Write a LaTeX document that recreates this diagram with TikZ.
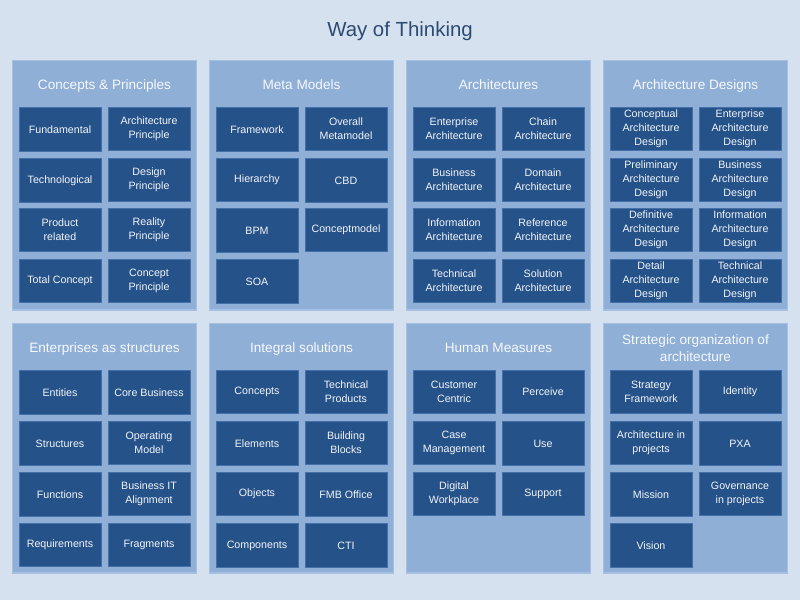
\documentclass[tikz,border=0pt]{standalone}
\usepackage{fontspec}
\setmainfont{Liberation Sans}
\definecolor{fond}{HTML}{D5E1EF}
\definecolor{paneau}{HTML}{8FAFD7}
\definecolor{paneaubord}{HTML}{A6C0E1}
\definecolor{case}{HTML}{26528A}
\definecolor{casebord}{HTML}{4571AA}
\definecolor{titre}{HTML}{2C4B72}
\begin{document}
\begin{tikzpicture}
  [x=0.75pt,y=-0.75pt,
  panel/.style={
    draw=paneaubord,
    fill=paneau,
    rectangle,
    line width=1pt,
    minimum width=138pt,
    minimum height=187pt,
    anchor=north west},
  heading/.style={
    text=white!92!paneau,
    align=center,
    font=\fontsize{10.2pt}{12.8pt}\selectfont},
  concept/.style={
    draw=casebord,
    fill=case,
    rectangle,
    line width=0.6pt,
    minimum width=61.5pt,
    minimum height=32.5pt,
    inner sep=0pt,
    align=center,
    text=white!94!case,
    font=\fontsize{8pt}{10.5pt}\selectfont}]

  \useasboundingbox [fill=fond] (0,0) rectangle (800,600);

  \node [text=titre, font=\fontsize{15.3pt}{18pt}\selectfont] (title) at (400,31) {Way of Thinking};

  % first row of panels
  \node [panel] (principles) at (12,60) {};
  \node [panel] (metamodels) at (209,60) {};
  \node [panel] (architectures) at (406,60) {};
  \node [panel] (designs) at (603,60) {};

  \node [heading, anchor=base] (principlestitle) at (104.5,89) {Concepts \& Principles};
  \node [heading, anchor=base] (metamodelstitle) at (301.5,89) {Meta Models};
  \node [heading, anchor=base] (architecturestitle) at (498.5,89) {Architectures};
  \node [heading, anchor=base] (designstitle) at (695.5,89) {Architecture Designs};

  \node [concept] (fundamental) at (60,129.5) {Fundamental};
  \node [concept] (archprinciple) at (149,129) {Architecture\\Principle};
  \node [concept] (technological) at (60,180.5) {Technological};
  \node [concept] (designprinciple) at (149,180) {Design\\Principle};
  \node [concept] (product) at (60,230) {Product\\related};
  \node [concept] (reality) at (149,230) {Reality\\Principle};
  \node [concept] (totalconcept) at (60,281) {Total Concept};
  \node [concept] (conceptprinciple) at (149,281) {Concept\\Principle};

  \node [concept] (framework) at (257,129.5) {Framework};
  \node [concept] (metamodel) at (346,129) {Overall\\Metamodel};
  \node [concept] (hierarchy) at (257,180) {Hierarchy};
  \node [concept] (cbd) at (346,180.5) {CBD};
  \node [concept] (bpm) at (257,230.5) {BPM};
  \node [concept] (conceptmodel) at (346,230) {Conceptmodel};
  \node [concept] (soa) at (257,281.5) {SOA};

  \node [concept] (enterprise) at (454,129) {Enterprise\\Architecture};
  \node [concept] (chain) at (543,129) {Chain\\Architecture};
  \node [concept] (business) at (454,180) {Business\\Architecture};
  \node [concept] (domain) at (543,180) {Domain\\Architecture};
  \node [concept] (information) at (454,230) {Information\\Architecture};
  \node [concept] (reference) at (543,230) {Reference\\Architecture};
  \node [concept] (technical) at (454,281) {Technical\\Architecture};
  \node [concept] (solution) at (543,281) {Solution\\Architecture};

  \node [concept] (conceptualdesign) at (651,129) {Conceptual\\Architecture\\Design};
  \node [concept] (enterprisedesign) at (740,129) {Enterprise\\Architecture\\Design};
  \node [concept] (preliminarydesign) at (651,180) {Preliminary\\Architecture\\Design};
  \node [concept] (businessdesign) at (740,180) {Business\\Architecture\\Design};
  \node [concept] (definitivedesign) at (651,230) {Definitive\\Architecture\\Design};
  \node [concept] (informationdesign) at (740,230) {Information\\Architecture\\Design};
  \node [concept] (detaildesign) at (651,281) {Detail\\Architecture\\Design};
  \node [concept] (technicaldesign) at (740,281) {Technical\\Architecture\\Design};

  % second row of panels
  \node [panel] (structures) at (12,323) {};
  \node [panel] (solutions) at (209,323) {};
  \node [panel] (measures) at (406,323) {};
  \node [panel] (strategic) at (603,323) {};

  \node [heading, anchor=base] (structurestitle) at (104.5,352) {Enterprises as structures};
  \node [heading, anchor=base] (solutionstitle) at (301.5,352) {Integral solutions};
  \node [heading, anchor=base] (measurestitle) at (498.5,352) {Human Measures};
  \node [heading] (strategictitle) at (695.5,348) {Strategic organization of\\architecture};

  \node [concept] (entities) at (60,392.5) {Entities};
  \node [concept] (corebusiness) at (149,392.5) {Core Business};
  \node [concept] (structuresbox) at (60,443.5) {Structures};
  \node [concept] (operating) at (149,443) {Operating\\Model};
  \node [concept] (functions) at (60,494.5) {Functions};
  \node [concept] (alignment) at (149,494) {Business IT\\Alignment};
  \node [concept] (requirements) at (60,545) {Requirements};
  \node [concept] (fragments) at (149,545) {Fragments};

  \node [concept] (concepts) at (257,392) {Concepts};
  \node [concept] (techproducts) at (346,392) {Technical\\Products};
  \node [concept] (elements) at (257,443.5) {Elements};
  \node [concept] (blocks) at (346,443) {Building\\Blocks};
  \node [concept] (objects) at (257,494) {Objects};
  \node [concept] (fmb) at (346,494.5) {FMB Office};
  \node [concept] (components) at (257,545.5) {Components};
  \node [concept] (cti) at (346,545.5) {CTI};

  \node [concept] (customer) at (454,392) {Customer\\Centric};
  \node [concept] (perceive) at (543,392) {Perceive};
  \node [concept] (casemgmt) at (454,443) {Case\\Management};
  \node [concept] (use) at (543,443.5) {Use};
  \node [concept] (workplace) at (454,494) {Digital\\Workplace};
  \node [concept] (support) at (543,494) {Support};

  \node [concept] (strategyframework) at (651,392) {Strategy\\Framework};
  \node [concept] (identity) at (740,392) {Identity};
  \node [concept] (inprojects) at (651,443) {Architecture in\\projects};
  \node [concept] (pxa) at (740,443.5) {PXA};
  \node [concept] (mission) at (651,494.5) {Mission};
  \node [concept] (governance) at (740,494) {Governance\\in projects};
  \node [concept] (vision) at (651,545.5) {Vision};
\end{tikzpicture}
\end{document}
